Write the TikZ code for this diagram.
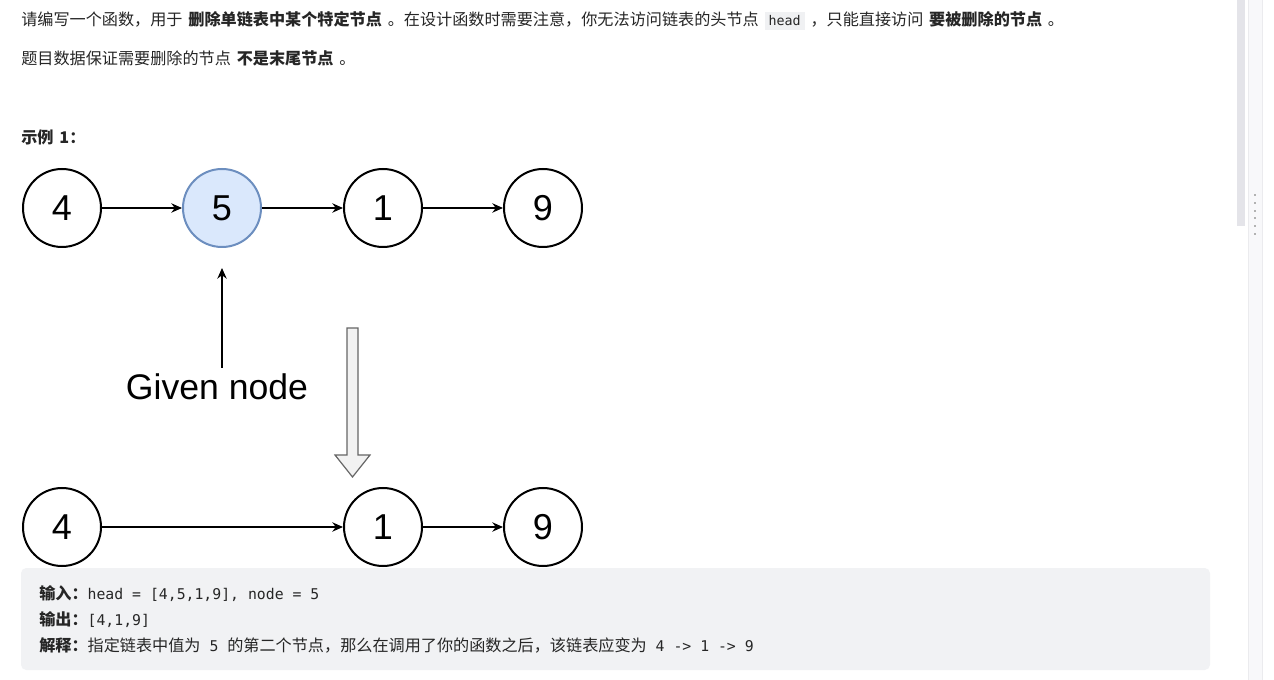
\documentclass[tikz,border=0pt]{standalone}
\usepackage{fontspec}
\usepackage{xcolor}
\usetikzlibrary{positioning, arrows.meta}
\setmainfont{Liberation Sans}
\newfontfamily\cjk[WordSpace=1.6]{Noto Sans CJK SC}
\newfontfamily\mono{DejaVu Sans Mono}
\definecolor{cText}     {HTML}{262626}
\definecolor{cCodeBg}   {HTML}{F0F1F3}
\definecolor{cBoxBg}    {HTML}{F1F2F4}
\definecolor{cNodeFill} {HTML}{DAE8FC}
\definecolor{cNodeLine} {HTML}{6C8EBF}
\definecolor{cHollow}   {HTML}{F2F2F2}
\definecolor{cHollowLn} {HTML}{666666}
\definecolor{cScroll}   {HTML}{E4E4E9}
\definecolor{cPanel}    {HTML}{F8F8FA}
\definecolor{cPanelLn}  {HTML}{EBEBEE}
\tikzset{
  listnode/.style={circle, draw=black, line width=1.5pt, minimum size=58.5pt,
    inner sep=0pt, font=\fontsize{27}{27}\selectfont},
  given/.style={listnode, fill=cNodeFill, draw=cNodeLine},
  link/.style={-{Stealth[length=8pt,width=7pt]}, line width=1.1pt},
  prose/.style={anchor=base west, inner sep=0pt, text=cText,
    font=\cjk\fontsize{12.1}{14}\selectfont},
}
\newcommand{\inlinecode}[1]{{\setlength{\fboxsep}{3pt}\colorbox{cCodeBg}{\mono\fontsize{10}{12}\selectfont #1}}}
\newcommand{\codepart}[1]{{\mono\fontsize{11.1}{12}\selectfont #1}}

\begin{document}
\begin{tikzpicture}[x=0.75pt, y=-0.75pt]
  \useasboundingbox (0,0) rectangle (1274,680);
  \fill[white] (0,0) rectangle (1274,680);

  % page chrome on the right
  \fill[cPanel] (1248,0) rectangle (1262,680);
  \draw[cPanelLn] (1248,0) -- (1248,680) (1262,0) -- (1262,680);
  \fill[cScroll] (1237,0) rectangle (1245,226);
  \foreach \d in {195,203,211,218,226,234}{
    \fill[gray!60] (1253.5,\d-1) rectangle (1255.5,\d+1);
  }

  % problem statement
  \node[prose] (line1) at (21,26) {请编写一个函数，用于 \textbf{删除单链表中某个特定节点} 。在设计函数时需要注意，你无法访问链表的头节点 \inlinecode{head} ，只能直接访问 \textbf{要被删除的节点} 。};
  \node[prose] (line2) at (21,65) {题目数据保证需要删除的节点 \textbf{不是末尾节点} 。};
  \node[prose] (example) at (21,144) {\textbf{示例 1：}};

  % list before
  \node[listnode] (a4) at (62,208) {4};
  \node[given]    (a5) at (222,208) {5};
  \node[listnode] (a1) at (383,208) {1};
  \node[listnode] (a9) at (543,208) {9};
  \draw[link] (a4) -- (a5);
  \draw[link] (a5) -- (a1);
  \draw[link] (a1) -- (a9);

  \node[font=\fontsize{26.7}{27}\selectfont, inner sep=0pt] (label) at (217,387) {Given node};
  \coordinate (labeltop) at (222,368);
  \draw[link] (labeltop) -- ([yshift=-15pt]a5.south);

  % hollow down arrow
  \draw[cHollowLn, fill=cHollow, line width=0.9pt, line join=miter]
    (347,328) -- (358,328) -- (358,455) -- (370,455) -- (352.5,477)
    -- (335,455) -- (347,455) -- cycle;

  % list after
  \node[listnode] (b4) at (62,527) {4};
  \node[listnode] (b1) at (383,527) {1};
  \node[listnode] (b9) at (543,527) {9};
  \draw[link] (b4) -- (b1);
  \draw[link] (b1) -- (b9);

  % example io box
  \fill[cBoxBg, rounded corners=4pt] (21,568) rectangle (1210,670);
  \node[prose] (input) at (39,599) {\textbf{输入：}\codepart{head = [4,5,1,9], node = 5}};
  \node[prose] (output) at (39,625) {\textbf{输出：}\codepart{[4,1,9]}};
  \node[prose] (explain) at (39,651) {\textbf{解释：}指定链表中值为\codepart{ 5 }的第二个节点，那么在调用了你的函数之后，该链表应变为\codepart{ 4 -> 1 -> 9}};
\end{tikzpicture}
\end{document}
